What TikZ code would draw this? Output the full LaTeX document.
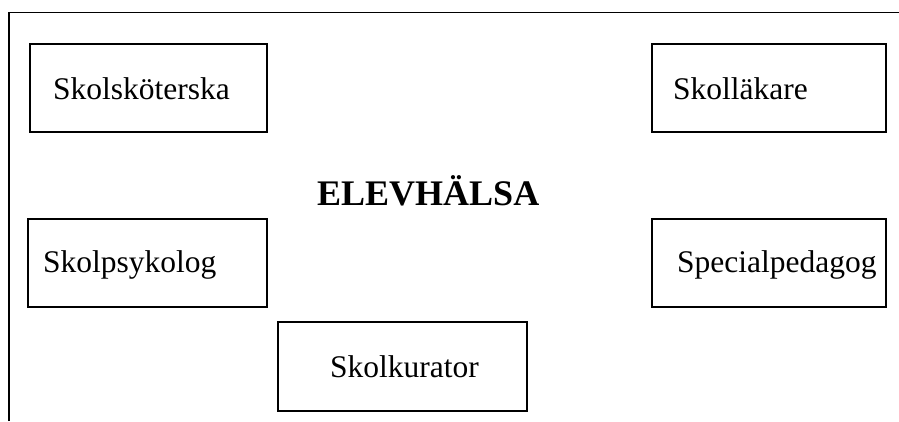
\documentclass[tikz,border=0pt]{standalone}
\usepackage{fontspec}
\setmainfont{Liberation Serif}
\begin{document}
\begin{tikzpicture}[x=1pt,y=-1pt,
  box/.style={draw=black, line width=1.8pt, rectangle, inner sep=0pt},
  lbl/.style={inner sep=0pt, anchor=base west, font=\fontsize{31.5}{36}\selectfont},
  ttl/.style={inner sep=0pt, anchor=base west, font=\fontsize{36}{42}\selectfont\bfseries}]
\useasboundingbox (0,0) rectangle (899,421);
% frame
\coordinate (fbl) at (9,421);
\coordinate (ftl) at (9,12.5);
\coordinate (ftr) at (899,12.5);
\draw[line width=1.8pt] (fbl) -- (ftl) -- (ftr);
% boxes
\node[box, minimum width=237pt, minimum height=88pt] (b1) at (148.5,88) {};
\node[box, minimum width=234pt, minimum height=88pt] (b2) at (769,88) {};
\node[box, minimum width=239pt, minimum height=88pt] (b3) at (147.5,263) {};
\node[box, minimum width=234pt, minimum height=88pt] (b4) at (769,263) {};
\node[box, minimum width=249pt, minimum height=89pt] (b5) at (402.5,366.5) {};
% labels
\node[lbl] (t1) at (53,99) {Skolsköterska};
\node[lbl] (t2) at (673,99) {Skolläkare};
\node[lbl] (t3) at (43,272) {Skolpsykolog};
\node[lbl] (t4) at (677,272) {Specialpedagog};
\node[lbl] (t5) at (330,377) {Skolkurator};
\node[ttl] (title) at (317,205) {ELEVHÄLSA};
\end{tikzpicture}
\end{document}
